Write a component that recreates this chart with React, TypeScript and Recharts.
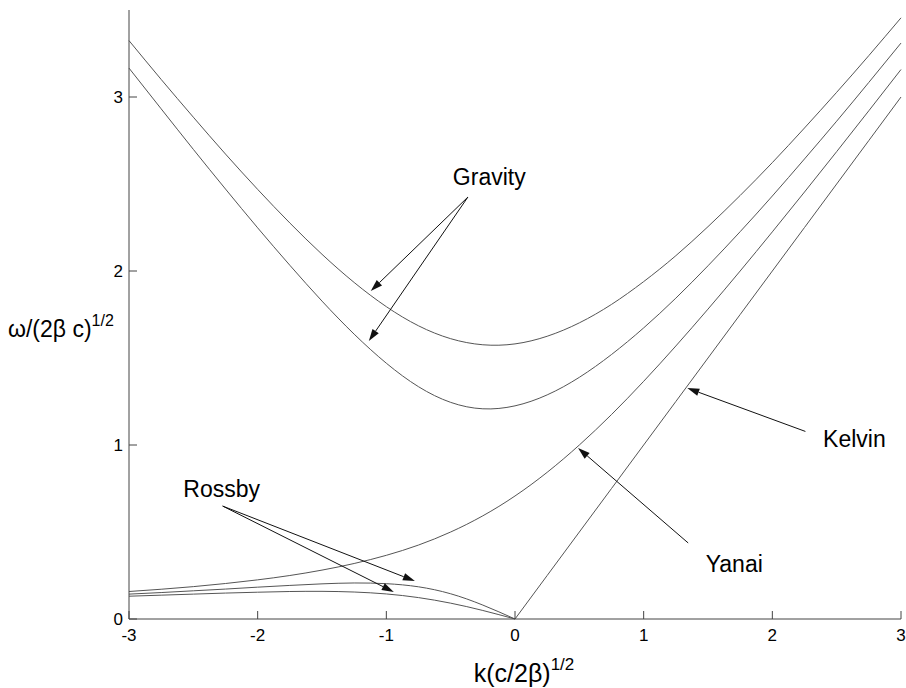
import React from 'react';
import { LineChart, Line, XAxis, YAxis, ReferenceLine, ReferenceDot } from 'recharts';

// nondimensional wavenumber k(c/2β)^1/2
const kValues = [
  -3, -2.75, -2.5, -2.25, -2, -1.75, -1.5, -1.25, -1, -0.75, -0.5, -0.25,
  0, 0.25, 0.5, 0.75, 1, 1.25, 1.5, 1.75, 2, 2.25, 2.5, 2.75, 3,
];

// ω/(2βc)^1/2
const gravity2 = [
  3.324, 3.101, 2.884, 2.672, 2.469, 2.276, 2.096, 1.934, 1.795, 1.685, 1.611, 1.576,
  1.581, 1.625, 1.702, 1.808, 1.939, 2.088, 2.255, 2.434, 2.623, 2.822, 3.027, 3.238, 3.455,
];
const gravity1 = [
  3.166, 2.932, 2.699, 2.471, 2.248, 2.033, 1.827, 1.637, 1.47, 1.335, 1.245, 1.208,
  1.225, 1.288, 1.389, 1.52, 1.673, 1.844, 2.03, 2.226, 2.431, 2.644, 2.861, 3.084, 3.31,
];
const yanai = [
  0.158, 0.171, 0.186, 0.204, 0.225, 0.25, 0.281, 0.319, 0.366, 0.425, 0.5, 0.593,
  0.707, 0.843, 1.0, 1.175, 1.366, 1.569, 1.781, 2.0, 2.225, 2.454, 2.686, 2.921, 3.158,
];
const kelvin = [
  null, null, null, null, null, null, null, null, null, null, null, null,
  0, 0.25, 0.5, 0.75, 1, 1.25, 1.5, 1.75, 2, 2.25, 2.5, 2.75, 3,
];
const rossby1 = [
  0.143, 0.152, 0.162, 0.172, 0.183, 0.193, 0.202, 0.207, 0.203, 0.185, 0.145, 0.08,
  0, null, null, null, null, null, null, null, null, null, null, null, null,
];
const rossby2 = [
  0.131, 0.137, 0.143, 0.149, 0.154, 0.158, 0.159, 0.155, 0.144, 0.123, 0.091, 0.049,
  0, null, null, null, null, null, null, null, null, null, null, null, null,
];

const xTicks = [-3, -2, -1, 0, 1, 2, 3];
const yTicks = [0, 1, 2, 3];

const data = kValues.map((k, i) => ({
  k,
  gravity2: gravity2[i],
  gravity1: gravity1[i],
  yanai: yanai[i],
  kelvin: kelvin[i],
  rossby1: rossby1[i],
  rossby2: rossby2[i],
}));

// annotation text (centre, baseline) and arrows, in data units
const labels = [
  { text: 'Gravity', x: -0.2, y: 2.494 },
  { text: 'Rossby', x: -2.28, y: 0.701 },
  { text: 'Yanai', x: 1.704, y: 0.27 },
  { text: 'Kelvin', x: 2.638, y: 0.989 },
];
const arrows = [
  { x1: -0.366, y1: 2.425, x2: -1.121, y2: 1.885 },
  { x1: -0.366, y1: 2.425, x2: -1.136, y2: 1.598 },
  { x1: -2.272, y1: 0.649, x2: -0.778, y2: 0.218 },
  { x1: -2.272, y1: 0.649, x2: -0.942, y2: 0.155 },
  { x1: 1.346, y1: 0.437, x2: 0.49, y2: 0.983 },
  { x1: 2.257, y1: 1.078, x2: 1.339, y2: 1.327 },
];

const FONT = '"Liberation Sans", Arial, Helvetica, sans-serif';
const CURVE = '#555';
const AXIS = '#444';

const Arrow = (p: any) => {
  const { x1, y1, x2, y2 } = p;
  const a = Math.atan2(y2 - y1, x2 - x1);
  const len = 12;
  const half = 3.8;
  const bx = x2 - len * Math.cos(a);
  const by = y2 - len * Math.sin(a);
  const px = -Math.sin(a) * half;
  const py = Math.cos(a) * half;
  return (
    <g>
      <line x1={x1} y1={y1} x2={bx} y2={by} stroke="#111" strokeWidth={1} />
      <polygon points={`${x2},${y2} ${bx + px},${by + py} ${bx - px},${by - py}`} fill="#111" />
    </g>
  );
};

const YLabel = (props: any) => {
  const vb = props.viewBox ?? { x: 0, y: 10, width: 129, height: 609 };
  return (
    <text x={vb.x + 8} y={vb.y + vb.height / 2 + 22} fontFamily={FONT} fontSize={23} fill="#000">
      ω/(2β c)
      <tspan dy={-11} fontSize={16}>1/2</tspan>
    </text>
  );
};

const XLabel = (props: any) => {
  const vb = props.viewBox ?? { x: 129, y: 619, width: 772, height: 69 };
  return (
    <text x={vb.x + vb.width / 2 + 9} y={vb.y + 63} textAnchor="middle" fontFamily={FONT} fontSize={25} fill="#000">
      k(c/2β)
      <tspan dy={-12} fontSize={17}>1/2</tspan>
    </text>
  );
};

export default function App() {
  const tick = { fill: '#000', fontSize: 17, fontFamily: FONT };
  return (
    <div style={{ position: 'absolute', left: 0, top: 0, background: '#fff' }}>
      <LineChart width={906} height={688} data={data} margin={{ top: 10, right: 5, bottom: 0, left: 0 }}>
        <XAxis
          dataKey="k"
          type="number"
          domain={[-3, 3]}
          ticks={xTicks}
          interval={0}
          height={69}
          tickSize={-8}
          tickMargin={18}
          tick={tick}
          stroke={AXIS}
          label={{ content: XLabel }}
        />
        <YAxis
          type="number"
          domain={[0, 3.5]}
          ticks={yTicks}
          interval={0}
          width={129}
          tickSize={-8}
          tickMargin={14}
          tick={tick}
          stroke={AXIS}
          label={{ content: YLabel }}
        />
        <Line dataKey="gravity2" type="natural" stroke={CURVE} strokeWidth={1} dot={false} activeDot={false} isAnimationActive={false} />
        <Line dataKey="gravity1" type="natural" stroke={CURVE} strokeWidth={1} dot={false} activeDot={false} isAnimationActive={false} />
        <Line dataKey="yanai" type="natural" stroke={CURVE} strokeWidth={1} dot={false} activeDot={false} isAnimationActive={false} />
        <Line dataKey="kelvin" type="linear" stroke={CURVE} strokeWidth={1} dot={false} activeDot={false} isAnimationActive={false} />
        <Line dataKey="rossby1" type="natural" stroke={CURVE} strokeWidth={1} dot={false} activeDot={false} isAnimationActive={false} />
        <Line dataKey="rossby2" type="natural" stroke={CURVE} strokeWidth={1} dot={false} activeDot={false} isAnimationActive={false} />
        {arrows.map((a, i) => (
          <ReferenceLine
            key={`arrow-${i}`}
            segment={[{ x: a.x1, y: a.y1 }, { x: a.x2, y: a.y2 }]}
            ifOverflow="visible"
            shape={Arrow}
          />
        ))}
        {labels.map((l) => (
          <ReferenceDot
            key={l.text}
            x={l.x}
            y={l.y}
            r={0}
            ifOverflow="visible"
            shape={(p: any) => (
              <text x={p.cx} y={p.cy} textAnchor="middle" fontFamily={FONT} fontSize={23} fill="#000">
                {l.text}
              </text>
            )}
          />
        ))}
      </LineChart>
    </div>
  );
}
